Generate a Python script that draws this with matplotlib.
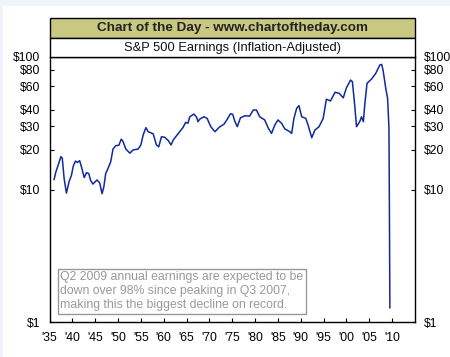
import matplotlib
matplotlib.use("Agg")
import matplotlib.pyplot as plt
from matplotlib.ticker import NullLocator, FixedLocator, FixedFormatter
from matplotlib.patches import Rectangle

plt.rcParams['font.family'] = ['Liberation Sans', 'DejaVu Sans']

years = [1936.0, 1936.4, 1936.9, 1937.5, 1937.8, 1938.2, 1938.7, 1939.3, 1939.8, 1940.2,
         1940.7, 1941.1, 1941.6, 1942.0, 1942.6, 1943.1, 1943.6, 1944.0, 1944.5, 1945.4,
         1946.0, 1946.5, 1946.9, 1947.3, 1947.8, 1948.4, 1948.9, 1949.5, 1950.2, 1950.7,
         1951.1, 1951.7, 1952.6, 1953.3, 1954.4, 1955.0, 1955.5, 1956.1, 1956.6, 1957.7,
         1958.4, 1958.9, 1959.5, 1960.2, 1961.0, 1961.6, 1962.1, 1963.2, 1964.2, 1964.8,
         1965.3, 1965.7, 1966.6, 1967.2, 1967.5, 1967.9,
         1968.8, 1969.5, 1970.3, 1971.2, 1972.3, 1973.2, 1973.9, 1974.6, 1975.1, 1975.6,
         1976.1, 1976.8, 1977.8, 1978.8, 1979.6, 1980.3, 1981.0, 1982.1, 1982.9, 1983.6,
         1984.3, 1985.0, 1985.8, 1986.5, 1987.6, 1988.0, 1988.5, 1989.1, 1989.6, 1990.2,
         1991.1, 1991.6, 1992.4, 1993.1, 1994.0, 1994.9, 1995.6, 1996.5, 1997.5, 1998.4,
         1999.3, 2000.0, 2000.9, 2001.3, 2001.8, 2002.2, 2002.9, 2003.3, 2003.7, 2004.0,
         2004.5, 2005.5, 2006.4, 2007.3, 2007.7, 2008.0, 2008.6, 2009.0, 2009.3, 2009.4,
         2009.5]
earnings = [11.9, 13.6, 15.3, 17.7, 17.2, 12.1, 9.4, 11.5, 12.8, 15.0,
            16.4, 16.0, 16.5, 14.8, 12.3, 13.4, 13.2, 11.7, 11.0, 11.8,
            11.2, 9.3, 10.5, 13.2, 14.4, 16.2, 20.2, 21.4, 21.6, 24.0,
            23.0, 20.2, 18.8, 19.9, 20.2, 21.7, 25.8, 29.3, 27.3, 26.3,
            21.7, 21.0, 25.0, 24.8, 23.4, 21.7, 23.7, 26.5, 29.3, 32.1,
            31.6, 35.4, 37.1, 35.1, 32.5, 34.0,
            35.4, 34.4, 29.8, 27.3, 29.8, 31.1, 33.9, 37.3, 36.9, 32.5,
            29.8, 34.8, 36.0, 35.8, 39.8, 39.8, 35.4, 33.5, 29.0, 26.5,
            30.6, 33.5, 31.6, 28.7, 27.3, 26.5, 34.4, 41.0, 42.9, 35.4,
            34.4, 30.6, 24.6, 28.1, 29.8, 34.4, 48.0, 46.6, 54.2, 53.2,
            49.2, 58.7, 67.0, 65.1, 43.4, 29.8, 32.5, 35.4, 32.5, 43.4,
            63.3, 68.2, 75.2, 87.0, 88.0, 79.8, 58.0, 48.8, 29.0, 7.0,
            1.28]

ytick_vals = [1, 10, 20, 30, 40, 60, 80, 100]
ytick_labels = ['$1', '$10', '$20', '$30', '$40', '$60', '$80', '$100']
xtick_vals = list(range(1935, 2011, 5))
xtick_labels = ["'35", "'40", "'45", "'50", "'55", "'60", "'65", "'70", "'75", "'80",
                "'85", "'90", "'95", "'00", "'05", "'10"]

title = "Chart of the Day - www.chartoftheday.com"
subtitle = "S&P 500 Earnings (Inflation-Adjusted)"
note = ("Q2 2009 annual earnings are expected to be\n"
        "down over 98% since peaking in Q3 2007,\n"
        "making this the biggest decline on record.")

W, H = 450, 357
fig = plt.figure(figsize=(W / 100, H / 100), dpi=100)
fig.patch.set_facecolor('#F0F3F8')
# white inner panel
fig.patches.append(Rectangle((3 / W, 0), 1, 1 - 6 / H, transform=fig.transFigure,
                             facecolor='white', edgecolor='none', zorder=-10))

x0, x1 = 49.5 / W, 415 / W
ytop, ybot = 57, 322
ax = fig.add_axes([x0, 1 - ybot / H, x1 - x0, (ybot - ytop) / H])
ax.set_facecolor('white')
ax.plot(years, earnings, color='#102a9c', lw=1.1)
ax.set_yscale('log')
ax.set_ylim(1, 100)
ax.set_xlim(1935, 2015)
ax.yaxis.set_major_locator(FixedLocator(ytick_vals))
ax.yaxis.set_major_formatter(FixedFormatter(ytick_labels))
ax.yaxis.set_minor_locator(NullLocator())
ax.set_xticks(xtick_vals)
ax.set_xticklabels(xtick_labels)
ax.tick_params(axis='y', which='both', direction='in', length=3, width=0.8,
               left=True, right=True, labelleft=True, labelright=True,
               labelsize=8.7, pad=6.5)
ax.tick_params(axis='x', direction='in', length=3, width=0.8, labelsize=8.7, pad=7)
for s in ax.spines.values():
    s.set_linewidth(1.0)
    s.set_color('black')

# title bands
fig.patches.append(Rectangle((x0, 1 - 38.3 / H), x1 - x0, 20 / H, transform=fig.transFigure,
                             facecolor='#C8C882', edgecolor='black', lw=1.0, zorder=2))
fig.patches.append(Rectangle((x0, 1 - ytop / H), x1 - x0, (ytop - 38.3) / H,
                             transform=fig.transFigure, facecolor='white',
                             edgecolor='black', lw=1.0, zorder=2))
fig.text((x0 + x1) / 2, 1 - 28.3 / H, title, ha='center', va='center',
         fontsize=9.7, fontweight='bold', color='#222222', zorder=3)
fig.text((x0 + x1) / 2, 1 - 47.8 / H, subtitle, ha='center', va='center',
         fontsize=9.3, color='#111111', zorder=3)

ax.text(0.03, 0.04, note, transform=ax.transAxes, ha='left', va='bottom',
        fontsize=8.8, color='#999999', linespacing=1.22,
        bbox=dict(boxstyle='square,pad=0.22', facecolor='white', edgecolor='#999999', lw=1.0))

fig.savefig('out.png', dpi=100, facecolor=fig.get_facecolor())
